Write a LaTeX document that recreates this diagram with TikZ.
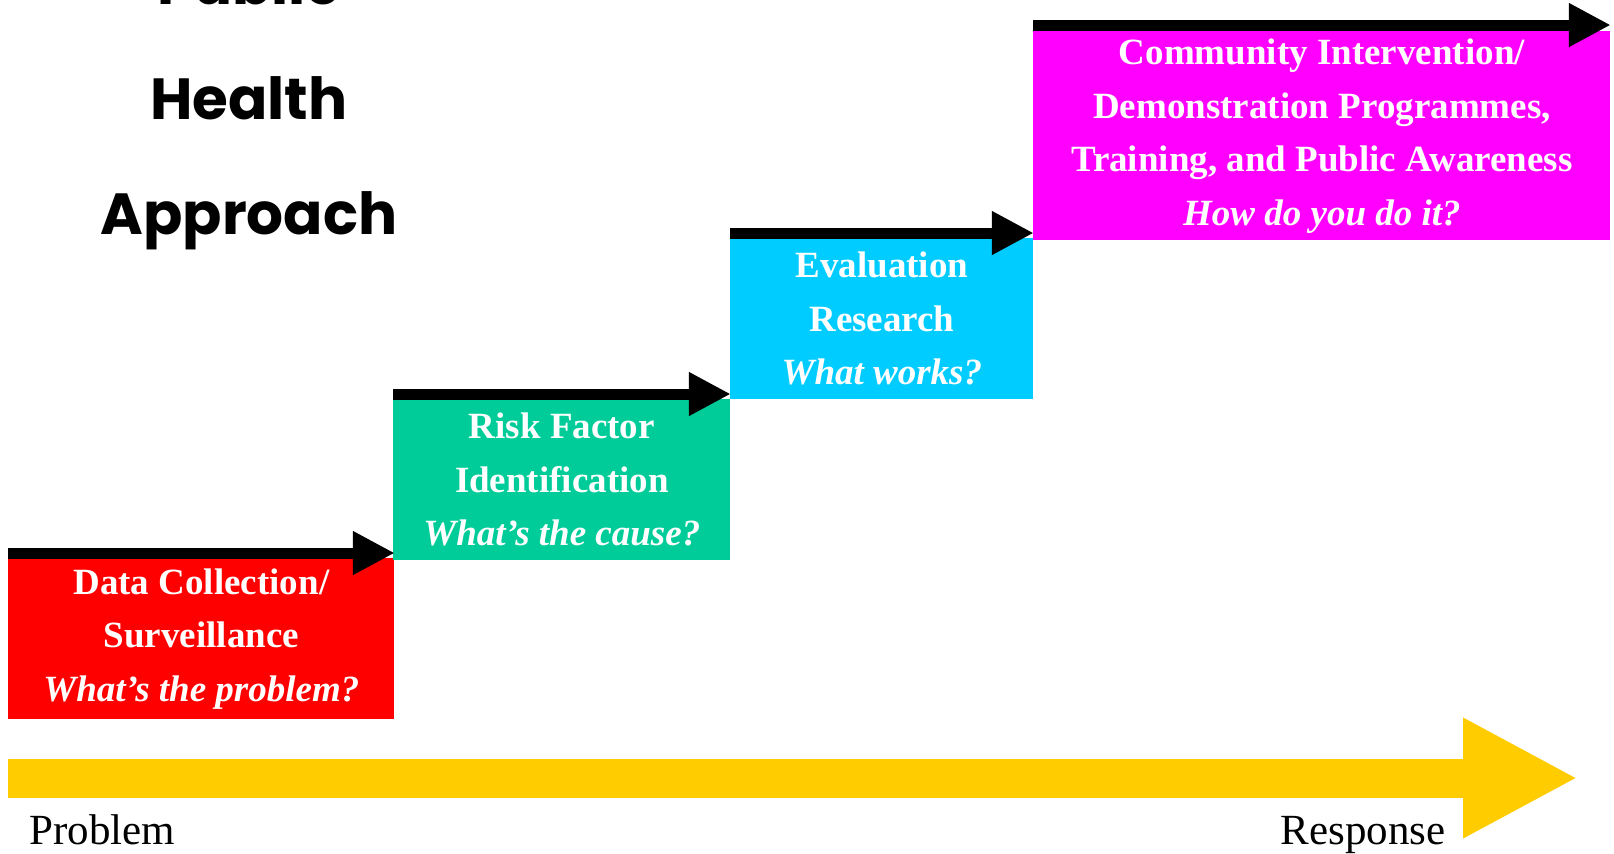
\documentclass[tikz,border=0pt]{standalone}
\usepackage{fontspec}
\setmainfont{Liberation Serif}
\newfontfamily\titlefont{Poppins}
\usetikzlibrary{arrows.meta}

\definecolor{datared}{HTML}{FF0000}
\definecolor{riskgreen}{HTML}{00CC99}
\definecolor{evalcyan}{HTML}{00CCFF}
\definecolor{commmagenta}{HTML}{FF00FF}
\definecolor{axisyellow}{HTML}{FFCC00}

\begin{document}
\begin{tikzpicture}[x=0.5pt,y=-0.5pt]
                \useasboundingbox (0,0) rectangle (1614,853);
                \node (title) [font=\titlefont\bfseries\fontsize{29}{57.5}\selectfont, align=center] at (249,104) {Public\\Health\\Approach};
                \begin{scope}[every node/.style={text=white,align=center,anchor=north west,inner sep=0pt,font=\fontsize{18.5}{26.75}\selectfont\bfseries}]
                    \node (data) [fill=datared, minimum width=193pt, minimum height=80.5pt] at (8,558) {Data Collection/\\Surveillance\\\textit{What’s the problem?}};
                    \node (risk) [fill=riskgreen, minimum width=168.5pt, minimum height=80.5pt] at (393,399) {Risk Factor\\Identification\\\textit{What’s the cause?}};
                    \node (eval) [fill=evalcyan, minimum width=151.5pt, minimum height=80.5pt] at (730,238) {Evaluation\\Research\\\textit{What works?}};
                    \node (comm) [fill=commmagenta, minimum width=288.5pt, minimum height=104.5pt] at (1033,31) {Community Intervention/\\Demonstration Programmes,\\Training, and Public Awareness\\\textit{How do you do it?}};
                \end{scope}
                \begin{scope}[every node/.style={inner sep=0pt,font=\fontsize{21.5}{26}\selectfont}]
                    \node (problem) [anchor=base west] at (29,844) {Problem};
                    \node (response) [anchor=base east] at (1446,844) {Response};
                \end{scope}
                \coordinate (axisstart) at (8,778);
                \coordinate (axisend) at (1578,778);
                \begin{scope}[every path/.style={line width=5.5pt,-{Triangle[length=21pt,width=20.5pt]}}]
                    \draw ([yshift=2.5pt]data.north west) -- ([yshift=2.5pt]data.north east);
                    \draw ([yshift=2.5pt]risk.north west) -- ([yshift=2.5pt]risk.north east);
                    \draw ([yshift=2.5pt]eval.north west) -- ([yshift=2.5pt]eval.north east);
                    \draw ([yshift=3pt]comm.north west) -- ([yshift=3pt]comm.north east);
                \end{scope}
                \draw [axisyellow, line width=19.5pt, -{Triangle[length=57.5pt,width=56pt]}] (axisstart) -- (axisend);
            \end{tikzpicture}
\end{document}
